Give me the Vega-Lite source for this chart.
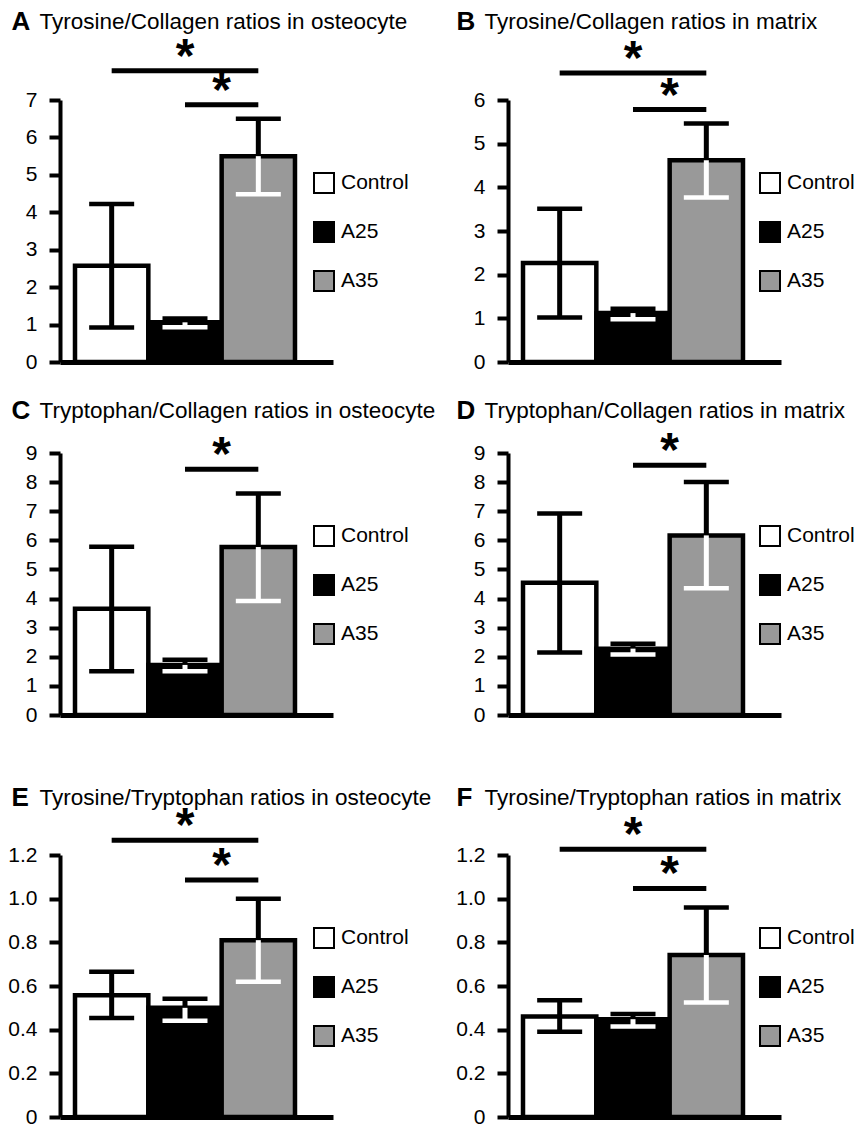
{
  "$schema": "https://vega.github.io/schema/vega-lite/v6.json",
  "background": "white",
  "padding": {"left": 7, "top": 8, "right": 0, "bottom": 0},
  "datasets": {
    "bars": [
      {"panel": "A", "group": "Control", "mean": 2.57, "lo": 0.92, "hi": 4.22},
      {"panel": "A", "group": "A25", "mean": 1.06, "lo": 0.93, "hi": 1.16},
      {"panel": "A", "group": "A35", "mean": 5.5, "lo": 4.48, "hi": 6.5},
      {"panel": "B", "group": "Control", "mean": 2.27, "lo": 1.02, "hi": 3.51},
      {"panel": "B", "group": "A25", "mean": 1.12, "lo": 0.98, "hi": 1.22},
      {"panel": "B", "group": "A35", "mean": 4.62, "lo": 3.77, "hi": 5.46},
      {"panel": "C", "group": "Control", "mean": 3.65, "lo": 1.5, "hi": 5.78},
      {"panel": "C", "group": "A25", "mean": 1.72, "lo": 1.5, "hi": 1.9},
      {"panel": "C", "group": "A35", "mean": 5.77, "lo": 3.92, "hi": 7.61},
      {"panel": "D", "group": "Control", "mean": 4.54, "lo": 2.15, "hi": 6.92},
      {"panel": "D", "group": "A25", "mean": 2.28, "lo": 2.08, "hi": 2.45},
      {"panel": "D", "group": "A35", "mean": 6.17, "lo": 4.35, "hi": 8.0},
      {"panel": "E", "group": "Control", "mean": 0.558, "lo": 0.453, "hi": 0.665},
      {"panel": "E", "group": "A25", "mean": 0.5, "lo": 0.441, "hi": 0.542},
      {"panel": "E", "group": "A35", "mean": 0.81, "lo": 0.62, "hi": 1.0},
      {"panel": "F", "group": "Control", "mean": 0.46, "lo": 0.39, "hi": 0.535},
      {"panel": "F", "group": "A25", "mean": 0.448, "lo": 0.415, "hi": 0.472},
      {"panel": "F", "group": "A35", "mean": 0.742, "lo": 0.525, "hi": 0.96}
    ],
    "sig": [
      {"panel": "A", "from": "Control", "to": "A35", "level": 7.78, "kind": "long"},
      {"panel": "A", "from": "A25", "to": "A35", "level": 6.87, "kind": "short"},
      {"panel": "B", "from": "Control", "to": "A35", "level": 6.62, "kind": "long"},
      {"panel": "B", "from": "A25", "to": "A35", "level": 5.78, "kind": "short"},
      {"panel": "C", "from": "A25", "to": "A35", "level": 8.44, "kind": "short"},
      {"panel": "D", "from": "A25", "to": "A35", "level": 8.58, "kind": "short"},
      {"panel": "E", "from": "Control", "to": "A35", "level": 1.267, "kind": "long"},
      {"panel": "E", "from": "A25", "to": "A35", "level": 1.085, "kind": "short"},
      {"panel": "F", "from": "Control", "to": "A35", "level": 1.226, "kind": "long"},
      {"panel": "F", "from": "A25", "to": "A35", "level": 1.047, "kind": "short"}
    ]
  },
  "config": {
    "view": {"stroke": null},
    "font": "Liberation Sans",
    "axisY": {"domainColor": "black", "domainWidth": 4, "tickColor": "black", "tickWidth": 4, "tickSize": 11, "tickCount": 20, "labelColor": "black", "labelFont": "Liberation Sans", "labelFontSize": 21, "labelPadding": 12, "labelOverlap": false, "labelBound": false, "grid": false,
              "titleFont": "Liberation Sans", "titleFontSize": 26, "titleFontWeight": "bold", "titleColor": "black", "titleAngle": 0, "titleAlign": "left", "titleBaseline": "middle"},
    "axisX": {"domainColor": "black", "domainWidth": 5, "labels": false, "ticks": false, "grid": false,
              "titleFont": "Liberation Sans", "titleFontSize": 22.5, "titleFontWeight": "normal", "titleColor": "black", "titleAngle": 0, "titleAlign": "left", "titleBaseline": "middle"},
    "legend": {"symbolType": "square", "symbolSize": 400, "symbolStrokeColor": "black", "symbolStrokeWidth": 2, "labelFont": "Liberation Sans", "labelFontSize": 21, "labelColor": "black", "rowPadding": 21, "labelOffset": 6, "padding": 0, "title": null}
  },
  "spacing": 59,
  "resolve": {"scale": {"x": "independent", "y": "independent", "fill": "independent"}, "legend": {"fill": "independent"}},
  "vconcat": [
    {
      "spacing": 25,
      "resolve": {"scale": {"x": "independent", "y": "independent", "fill": "independent"}, "legend": {"fill": "independent"}},
      "vconcat": [
        {
          "spacing": 175,
          "bounds": "flush",
          "resolve": {"scale": {"x": "independent", "y": "independent", "fill": "independent"}, "legend": {"fill": "independent"}},
          "hconcat": [
            {
              "width": 273, "height": 262,
              "layer": [
                {"data": {"name": "bars"}, "transform": [{"filter": "datum.panel === 'A'"}], "mark": {"type": "bar", "stroke": "black", "strokeWidth": 4.5},
                 "encoding": {
                   "x": {"field": "group", "type": "nominal", "scale": {"domain": ["Control", "A25", "A35"], "paddingInner": 0, "paddingOuter": 0.3615, "align": 0.283}, "axis": {"title": "Tyrosine/Collagen ratios in osteocyte", "titleX": -21, "titleY": -340.7}},
                   "y": {"field": "mean", "type": "quantitative", "scale": {"domain": [0, 7], "nice": false}, "axis": {"values": [0, 1, 2, 3, 4, 5, 6, 7], "format": "d", "title": "A", "titleX": -49, "titleY": -78.7}},
                   "fill": {"field": "group", "type": "nominal", "scale": {"domain": ["Control", "A25", "A35"], "range": ["white", "black", "#999999"]}, "legend": {"orient": "none", "legendX": 253, "legendY": 72}}
                 }},
                {"data": {"name": "bars"}, "transform": [{"filter": "datum.panel === 'A'"}], "mark": {"type": "rule", "strokeWidth": 5, "color": "black"},
                 "encoding": {"x": {"field": "group", "type": "nominal"}, "y": {"field": "mean", "type": "quantitative"}, "y2": {"field": "hi"}}},
                {"data": {"name": "bars"}, "transform": [{"filter": "datum.panel === 'A'"}], "mark": {"type": "rule", "strokeWidth": 5},
                 "encoding": {"x": {"field": "group", "type": "nominal"}, "y": {"field": "lo", "type": "quantitative"}, "y2": {"field": "mean"}, "color": {"condition": {"test": "datum.group === 'Control'", "value": "black"}, "value": "white"}}},
                {"data": {"name": "bars"}, "transform": [{"filter": "datum.panel === 'A'"}], "mark": {"type": "tick", "size": 45, "thickness": 4.5, "color": "black", "opacity": 1},
                 "encoding": {"x": {"field": "group", "type": "nominal"}, "y": {"field": "hi", "type": "quantitative"}}},
                {"data": {"name": "bars"}, "transform": [{"filter": "datum.panel === 'A'"}], "mark": {"type": "tick", "size": 45, "thickness": 4.5, "opacity": 1},
                 "encoding": {"x": {"field": "group", "type": "nominal"}, "y": {"field": "lo", "type": "quantitative"}, "color": {"condition": {"test": "datum.group === 'Control'", "value": "black"}, "value": "white"}}},
                {"data": {"name": "sig"}, "transform": [{"filter": "datum.panel === 'A'"}], "mark": {"type": "rule", "strokeWidth": 5, "color": "black"},
                 "encoding": {"x": {"field": "from", "type": "nominal"}, "x2": {"field": "to"}, "y": {"field": "level", "type": "quantitative"}}},
                {"data": {"name": "sig"}, "transform": [{"filter": "datum.panel === 'A' && datum.kind === 'long'"}], "mark": {"type": "text", "text": "*", "font": "Liberation Sans", "fontWeight": "bold", "fontSize": 48, "baseline": "middle", "dy": -13, "color": "black"},
                 "encoding": {"x": {"datum": "A25", "type": "nominal"}, "y": {"field": "level", "type": "quantitative"}}},
                {"data": {"name": "sig"}, "transform": [{"filter": "datum.panel === 'A' && datum.kind === 'short'"}], "mark": {"type": "text", "text": "*", "font": "Liberation Sans", "fontWeight": "bold", "fontSize": 48, "baseline": "middle", "dy": -13, "color": "black"},
                 "encoding": {"x": {"field": "to", "type": "nominal", "bandPosition": 0}, "y": {"field": "level", "type": "quantitative"}}}
              ]
            },
            {
              "width": 273, "height": 262,
              "layer": [
                {"data": {"name": "bars"}, "transform": [{"filter": "datum.panel === 'B'"}], "mark": {"type": "bar", "stroke": "black", "strokeWidth": 4.5},
                 "encoding": {
                   "x": {"field": "group", "type": "nominal", "scale": {"domain": ["Control", "A25", "A35"], "paddingInner": 0, "paddingOuter": 0.3615, "align": 0.283}, "axis": {"title": "Tyrosine/Collagen ratios in matrix", "titleX": -24, "titleY": -340.7}},
                   "y": {"field": "mean", "type": "quantitative", "scale": {"domain": [0, 6], "nice": false}, "axis": {"values": [0, 1, 2, 3, 4, 5, 6], "format": "d", "title": "B", "titleX": -52, "titleY": -78.7}},
                   "fill": {"field": "group", "type": "nominal", "scale": {"domain": ["Control", "A25", "A35"], "range": ["white", "black", "#999999"]}, "legend": {"orient": "none", "legendX": 251, "legendY": 72}}
                 }},
                {"data": {"name": "bars"}, "transform": [{"filter": "datum.panel === 'B'"}], "mark": {"type": "rule", "strokeWidth": 5, "color": "black"},
                 "encoding": {"x": {"field": "group", "type": "nominal"}, "y": {"field": "mean", "type": "quantitative"}, "y2": {"field": "hi"}}},
                {"data": {"name": "bars"}, "transform": [{"filter": "datum.panel === 'B'"}], "mark": {"type": "rule", "strokeWidth": 5},
                 "encoding": {"x": {"field": "group", "type": "nominal"}, "y": {"field": "lo", "type": "quantitative"}, "y2": {"field": "mean"}, "color": {"condition": {"test": "datum.group === 'Control'", "value": "black"}, "value": "white"}}},
                {"data": {"name": "bars"}, "transform": [{"filter": "datum.panel === 'B'"}], "mark": {"type": "tick", "size": 45, "thickness": 4.5, "color": "black", "opacity": 1},
                 "encoding": {"x": {"field": "group", "type": "nominal"}, "y": {"field": "hi", "type": "quantitative"}}},
                {"data": {"name": "bars"}, "transform": [{"filter": "datum.panel === 'B'"}], "mark": {"type": "tick", "size": 45, "thickness": 4.5, "opacity": 1},
                 "encoding": {"x": {"field": "group", "type": "nominal"}, "y": {"field": "lo", "type": "quantitative"}, "color": {"condition": {"test": "datum.group === 'Control'", "value": "black"}, "value": "white"}}},
                {"data": {"name": "sig"}, "transform": [{"filter": "datum.panel === 'B'"}], "mark": {"type": "rule", "strokeWidth": 5, "color": "black"},
                 "encoding": {"x": {"field": "from", "type": "nominal"}, "x2": {"field": "to"}, "y": {"field": "level", "type": "quantitative"}}},
                {"data": {"name": "sig"}, "transform": [{"filter": "datum.panel === 'B' && datum.kind === 'long'"}], "mark": {"type": "text", "text": "*", "font": "Liberation Sans", "fontWeight": "bold", "fontSize": 48, "baseline": "middle", "dy": -13, "color": "black"},
                 "encoding": {"x": {"datum": "A25", "type": "nominal"}, "y": {"field": "level", "type": "quantitative"}}},
                {"data": {"name": "sig"}, "transform": [{"filter": "datum.panel === 'B' && datum.kind === 'short'"}], "mark": {"type": "text", "text": "*", "font": "Liberation Sans", "fontWeight": "bold", "fontSize": 48, "baseline": "middle", "dy": -13, "color": "black"},
                 "encoding": {"x": {"field": "to", "type": "nominal", "bandPosition": 0}, "y": {"field": "level", "type": "quantitative"}}}
              ]
            }
          ]
        },
        {
          "spacing": 175,
          "bounds": "flush",
          "resolve": {"scale": {"x": "independent", "y": "independent", "fill": "independent"}, "legend": {"fill": "independent"}},
          "hconcat": [
            {
              "width": 273, "height": 262,
              "layer": [
                {"data": {"name": "bars"}, "transform": [{"filter": "datum.panel === 'C'"}], "mark": {"type": "bar", "stroke": "black", "strokeWidth": 4.5},
                 "encoding": {
                   "x": {"field": "group", "type": "nominal", "scale": {"domain": ["Control", "A25", "A35"], "paddingInner": 0, "paddingOuter": 0.3615, "align": 0.283}, "axis": {"title": "Tryptophan/Collagen ratios in osteocyte", "titleX": -21, "titleY": -305}},
                   "y": {"field": "mean", "type": "quantitative", "scale": {"domain": [0, 9], "nice": false}, "axis": {"values": [0, 1, 2, 3, 4, 5, 6, 7, 8, 9], "format": "d", "title": "C", "titleX": -49, "titleY": -43}},
                   "fill": {"field": "group", "type": "nominal", "scale": {"domain": ["Control", "A25", "A35"], "range": ["white", "black", "#999999"]}, "legend": {"orient": "none", "legendX": 253, "legendY": 72}}
                 }},
                {"data": {"name": "bars"}, "transform": [{"filter": "datum.panel === 'C'"}], "mark": {"type": "rule", "strokeWidth": 5, "color": "black"},
                 "encoding": {"x": {"field": "group", "type": "nominal"}, "y": {"field": "mean", "type": "quantitative"}, "y2": {"field": "hi"}}},
                {"data": {"name": "bars"}, "transform": [{"filter": "datum.panel === 'C'"}], "mark": {"type": "rule", "strokeWidth": 5},
                 "encoding": {"x": {"field": "group", "type": "nominal"}, "y": {"field": "lo", "type": "quantitative"}, "y2": {"field": "mean"}, "color": {"condition": {"test": "datum.group === 'Control'", "value": "black"}, "value": "white"}}},
                {"data": {"name": "bars"}, "transform": [{"filter": "datum.panel === 'C'"}], "mark": {"type": "tick", "size": 45, "thickness": 4.5, "color": "black", "opacity": 1},
                 "encoding": {"x": {"field": "group", "type": "nominal"}, "y": {"field": "hi", "type": "quantitative"}}},
                {"data": {"name": "bars"}, "transform": [{"filter": "datum.panel === 'C'"}], "mark": {"type": "tick", "size": 45, "thickness": 4.5, "opacity": 1},
                 "encoding": {"x": {"field": "group", "type": "nominal"}, "y": {"field": "lo", "type": "quantitative"}, "color": {"condition": {"test": "datum.group === 'Control'", "value": "black"}, "value": "white"}}},
                {"data": {"name": "sig"}, "transform": [{"filter": "datum.panel === 'C'"}], "mark": {"type": "rule", "strokeWidth": 5, "color": "black"},
                 "encoding": {"x": {"field": "from", "type": "nominal"}, "x2": {"field": "to"}, "y": {"field": "level", "type": "quantitative"}}},
                {"data": {"name": "sig"}, "transform": [{"filter": "datum.panel === 'C' && datum.kind === 'short'"}], "mark": {"type": "text", "text": "*", "font": "Liberation Sans", "fontWeight": "bold", "fontSize": 48, "baseline": "middle", "dy": -13, "color": "black"},
                 "encoding": {"x": {"field": "to", "type": "nominal", "bandPosition": 0}, "y": {"field": "level", "type": "quantitative"}}}
              ]
            },
            {
              "width": 273, "height": 262,
              "layer": [
                {"data": {"name": "bars"}, "transform": [{"filter": "datum.panel === 'D'"}], "mark": {"type": "bar", "stroke": "black", "strokeWidth": 4.5},
                 "encoding": {
                   "x": {"field": "group", "type": "nominal", "scale": {"domain": ["Control", "A25", "A35"], "paddingInner": 0, "paddingOuter": 0.3615, "align": 0.283}, "axis": {"title": "Tryptophan/Collagen ratios in matrix", "titleX": -24, "titleY": -305}},
                   "y": {"field": "mean", "type": "quantitative", "scale": {"domain": [0, 9], "nice": false}, "axis": {"values": [0, 1, 2, 3, 4, 5, 6, 7, 8, 9], "format": "d", "title": "D", "titleX": -52, "titleY": -43}},
                   "fill": {"field": "group", "type": "nominal", "scale": {"domain": ["Control", "A25", "A35"], "range": ["white", "black", "#999999"]}, "legend": {"orient": "none", "legendX": 251, "legendY": 72}}
                 }},
                {"data": {"name": "bars"}, "transform": [{"filter": "datum.panel === 'D'"}], "mark": {"type": "rule", "strokeWidth": 5, "color": "black"},
                 "encoding": {"x": {"field": "group", "type": "nominal"}, "y": {"field": "mean", "type": "quantitative"}, "y2": {"field": "hi"}}},
                {"data": {"name": "bars"}, "transform": [{"filter": "datum.panel === 'D'"}], "mark": {"type": "rule", "strokeWidth": 5},
                 "encoding": {"x": {"field": "group", "type": "nominal"}, "y": {"field": "lo", "type": "quantitative"}, "y2": {"field": "mean"}, "color": {"condition": {"test": "datum.group === 'Control'", "value": "black"}, "value": "white"}}},
                {"data": {"name": "bars"}, "transform": [{"filter": "datum.panel === 'D'"}], "mark": {"type": "tick", "size": 45, "thickness": 4.5, "color": "black", "opacity": 1},
                 "encoding": {"x": {"field": "group", "type": "nominal"}, "y": {"field": "hi", "type": "quantitative"}}},
                {"data": {"name": "bars"}, "transform": [{"filter": "datum.panel === 'D'"}], "mark": {"type": "tick", "size": 45, "thickness": 4.5, "opacity": 1},
                 "encoding": {"x": {"field": "group", "type": "nominal"}, "y": {"field": "lo", "type": "quantitative"}, "color": {"condition": {"test": "datum.group === 'Control'", "value": "black"}, "value": "white"}}},
                {"data": {"name": "sig"}, "transform": [{"filter": "datum.panel === 'D'"}], "mark": {"type": "rule", "strokeWidth": 5, "color": "black"},
                 "encoding": {"x": {"field": "from", "type": "nominal"}, "x2": {"field": "to"}, "y": {"field": "level", "type": "quantitative"}}},
                {"data": {"name": "sig"}, "transform": [{"filter": "datum.panel === 'D' && datum.kind === 'short'"}], "mark": {"type": "text", "text": "*", "font": "Liberation Sans", "fontWeight": "bold", "fontSize": 48, "baseline": "middle", "dy": -13, "color": "black"},
                 "encoding": {"x": {"field": "to", "type": "nominal", "bandPosition": 0}, "y": {"field": "level", "type": "quantitative"}}}
              ]
            }
          ]
        }
      ]
    },
    {
      "spacing": 175,
      "bounds": "flush",
      "resolve": {"scale": {"x": "independent", "y": "independent", "fill": "independent"}, "legend": {"fill": "independent"}},
      "hconcat": [
        {
          "width": 273, "height": 262,
          "layer": [
            {"data": {"name": "bars"}, "transform": [{"filter": "datum.panel === 'E'"}], "mark": {"type": "bar", "stroke": "black", "strokeWidth": 4.5},
             "encoding": {
               "x": {"field": "group", "type": "nominal", "scale": {"domain": ["Control", "A25", "A35"], "paddingInner": 0, "paddingOuter": 0.3615, "align": 0.283}, "axis": {"title": "Tyrosine/Tryptophan ratios in osteocyte", "titleX": -21, "titleY": -320}},
               "y": {"field": "mean", "type": "quantitative", "scale": {"domain": [0, 1.2], "nice": false}, "axis": {"values": [0, 0.2, 0.4, 0.6, 0.8, 1.0, 1.2], "labelExpr": "datum.value === 0 ? '0' : format(datum.value, '.1f')", "title": "E", "titleX": -49, "titleY": -58}},
               "fill": {"field": "group", "type": "nominal", "scale": {"domain": ["Control", "A25", "A35"], "range": ["white", "black", "#999999"]}, "legend": {"orient": "none", "legendX": 253, "legendY": 72}}
             }},
            {"data": {"name": "bars"}, "transform": [{"filter": "datum.panel === 'E'"}], "mark": {"type": "rule", "strokeWidth": 5, "color": "black"},
             "encoding": {"x": {"field": "group", "type": "nominal"}, "y": {"field": "mean", "type": "quantitative"}, "y2": {"field": "hi"}}},
            {"data": {"name": "bars"}, "transform": [{"filter": "datum.panel === 'E'"}], "mark": {"type": "rule", "strokeWidth": 5},
             "encoding": {"x": {"field": "group", "type": "nominal"}, "y": {"field": "lo", "type": "quantitative"}, "y2": {"field": "mean"}, "color": {"condition": {"test": "datum.group === 'Control'", "value": "black"}, "value": "white"}}},
            {"data": {"name": "bars"}, "transform": [{"filter": "datum.panel === 'E'"}], "mark": {"type": "tick", "size": 45, "thickness": 4.5, "color": "black", "opacity": 1},
             "encoding": {"x": {"field": "group", "type": "nominal"}, "y": {"field": "hi", "type": "quantitative"}}},
            {"data": {"name": "bars"}, "transform": [{"filter": "datum.panel === 'E'"}], "mark": {"type": "tick", "size": 45, "thickness": 4.5, "opacity": 1},
             "encoding": {"x": {"field": "group", "type": "nominal"}, "y": {"field": "lo", "type": "quantitative"}, "color": {"condition": {"test": "datum.group === 'Control'", "value": "black"}, "value": "white"}}},
            {"data": {"name": "sig"}, "transform": [{"filter": "datum.panel === 'E'"}], "mark": {"type": "rule", "strokeWidth": 5, "color": "black"},
             "encoding": {"x": {"field": "from", "type": "nominal"}, "x2": {"field": "to"}, "y": {"field": "level", "type": "quantitative"}}},
            {"data": {"name": "sig"}, "transform": [{"filter": "datum.panel === 'E' && datum.kind === 'long'"}], "mark": {"type": "text", "text": "*", "font": "Liberation Sans", "fontWeight": "bold", "fontSize": 48, "baseline": "middle", "dy": -13, "color": "black"},
             "encoding": {"x": {"datum": "A25", "type": "nominal"}, "y": {"field": "level", "type": "quantitative"}}},
            {"data": {"name": "sig"}, "transform": [{"filter": "datum.panel === 'E' && datum.kind === 'short'"}], "mark": {"type": "text", "text": "*", "font": "Liberation Sans", "fontWeight": "bold", "fontSize": 48, "baseline": "middle", "dy": -13, "color": "black"},
             "encoding": {"x": {"field": "to", "type": "nominal", "bandPosition": 0}, "y": {"field": "level", "type": "quantitative"}}}
          ]
        },
        {
          "width": 273, "height": 262,
          "layer": [
            {"data": {"name": "bars"}, "transform": [{"filter": "datum.panel === 'F'"}], "mark": {"type": "bar", "stroke": "black", "strokeWidth": 4.5},
             "encoding": {
               "x": {"field": "group", "type": "nominal", "scale": {"domain": ["Control", "A25", "A35"], "paddingInner": 0, "paddingOuter": 0.3615, "align": 0.283}, "axis": {"title": "Tyrosine/Tryptophan ratios in matrix", "titleX": -24, "titleY": -320}},
               "y": {"field": "mean", "type": "quantitative", "scale": {"domain": [0, 1.2], "nice": false}, "axis": {"values": [0, 0.2, 0.4, 0.6, 0.8, 1.0, 1.2], "labelExpr": "datum.value === 0 ? '0' : format(datum.value, '.1f')", "title": "F", "titleX": -52, "titleY": -58}},
               "fill": {"field": "group", "type": "nominal", "scale": {"domain": ["Control", "A25", "A35"], "range": ["white", "black", "#999999"]}, "legend": {"orient": "none", "legendX": 251, "legendY": 72}}
             }},
            {"data": {"name": "bars"}, "transform": [{"filter": "datum.panel === 'F'"}], "mark": {"type": "rule", "strokeWidth": 5, "color": "black"},
             "encoding": {"x": {"field": "group", "type": "nominal"}, "y": {"field": "mean", "type": "quantitative"}, "y2": {"field": "hi"}}},
            {"data": {"name": "bars"}, "transform": [{"filter": "datum.panel === 'F'"}], "mark": {"type": "rule", "strokeWidth": 5},
             "encoding": {"x": {"field": "group", "type": "nominal"}, "y": {"field": "lo", "type": "quantitative"}, "y2": {"field": "mean"}, "color": {"condition": {"test": "datum.group === 'Control'", "value": "black"}, "value": "white"}}},
            {"data": {"name": "bars"}, "transform": [{"filter": "datum.panel === 'F'"}], "mark": {"type": "tick", "size": 45, "thickness": 4.5, "color": "black", "opacity": 1},
             "encoding": {"x": {"field": "group", "type": "nominal"}, "y": {"field": "hi", "type": "quantitative"}}},
            {"data": {"name": "bars"}, "transform": [{"filter": "datum.panel === 'F'"}], "mark": {"type": "tick", "size": 45, "thickness": 4.5, "opacity": 1},
             "encoding": {"x": {"field": "group", "type": "nominal"}, "y": {"field": "lo", "type": "quantitative"}, "color": {"condition": {"test": "datum.group === 'Control'", "value": "black"}, "value": "white"}}},
            {"data": {"name": "sig"}, "transform": [{"filter": "datum.panel === 'F'"}], "mark": {"type": "rule", "strokeWidth": 5, "color": "black"},
             "encoding": {"x": {"field": "from", "type": "nominal"}, "x2": {"field": "to"}, "y": {"field": "level", "type": "quantitative"}}},
            {"data": {"name": "sig"}, "transform": [{"filter": "datum.panel === 'F' && datum.kind === 'long'"}], "mark": {"type": "text", "text": "*", "font": "Liberation Sans", "fontWeight": "bold", "fontSize": 48, "baseline": "middle", "dy": -13, "color": "black"},
             "encoding": {"x": {"datum": "A25", "type": "nominal"}, "y": {"field": "level", "type": "quantitative"}}},
            {"data": {"name": "sig"}, "transform": [{"filter": "datum.panel === 'F' && datum.kind === 'short'"}], "mark": {"type": "text", "text": "*", "font": "Liberation Sans", "fontWeight": "bold", "fontSize": 48, "baseline": "middle", "dy": -13, "color": "black"},
             "encoding": {"x": {"field": "to", "type": "nominal", "bandPosition": 0}, "y": {"field": "level", "type": "quantitative"}}}
          ]
        }
      ]
    }
  ]
}
